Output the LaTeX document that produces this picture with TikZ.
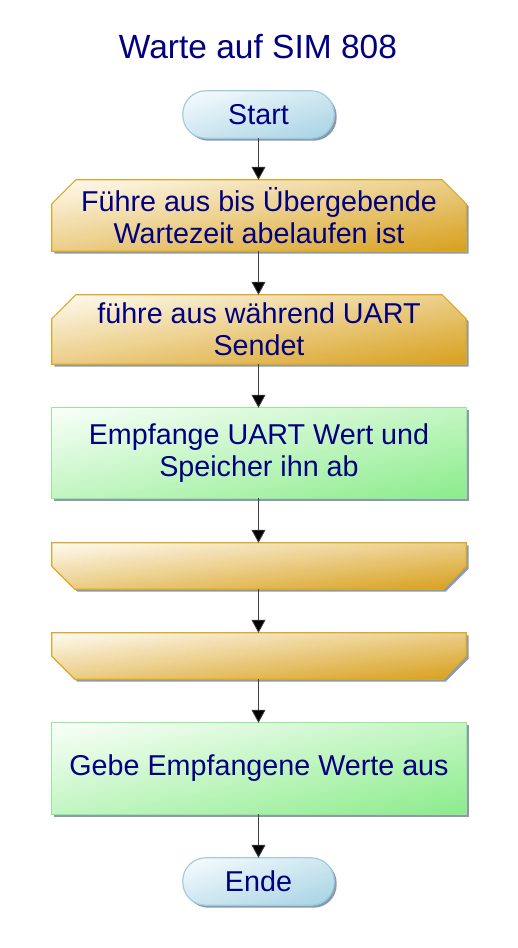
\documentclass[tikz,border=0pt]{standalone}
\usepackage{fontspec}
\setmainfont{Liberation Sans}
\usetikzlibrary{arrows.meta,positioning}
\pgfdeclarelayer{background}
\pgfsetlayers{background,main}
\definecolor{txtblue}{RGB}{0,0,128}
\definecolor{shadowgray}{RGB}{138,155,174}
\definecolor{termlight}{RGB}{250,253,255}
\definecolor{termdark}{RGB}{166,211,228}
\definecolor{termedge}{RGB}{160,205,222}
\definecolor{looplight}{RGB}{255,252,242}
\definecolor{loopdark}{RGB}{216,160,30}
\definecolor{loopedge}{RGB}{220,168,40}
\definecolor{proclight}{RGB}{250,255,250}
\definecolor{procdark}{RGB}{140,236,140}
\definecolor{procedge}{RGB}{150,232,150}
\tikzset{
  boxtext/.style={text=txtblue, font=\fontsize{28.7}{32}\selectfont, align=center, inner sep=0pt},
  diagshade/.style n args={4}{path picture={%
    \begin{scope}[shift={(path picture bounding box.north west)}, x=#3pt, y=-#4pt]
    \foreach \i in {0,...,47} {%
      \pgfmathsetmacro\pcl{100-(\i+0.5)*100/48}%
      \pgfmathsetmacro\sa{2*\i/48}%
      \pgfmathsetmacro\sb{2*(\i+1)/48+0.01}%
      \fill[color=#1!\pcl!#2] ({\sa+1},-1) -- ({\sb+1},-1) -- ({\sb-2},2) -- ({\sa-2},2) -- cycle;
    }
    \end{scope}}},
  shadowed/.style={preaction={fill=shadowgray, transform canvas={xshift=2.5pt,yshift=-2.5pt}}},
  termbox/.style={boxtext, rectangle, minimum width=151pt, minimum height=47pt},
  termshape/.style={draw=termedge, line width=1.2pt, rounded corners=23pt, diagshade={termlight}{termdark}{151}{47}, shadowed},
  procbox/.style={boxtext, rectangle, minimum width=414pt},
  procshape/.style={draw=procedge, line width=1.2pt, diagshade={proclight}{procdark}{414}{#1}, shadowed},
  loopbox/.style={boxtext, rectangle, minimum width=414pt},
  loopshape/.style={draw=loopedge, line width=1.2pt, diagshade={looplight}{loopdark}{414}{#1}, shadowed},
  flow/.style={draw=black!75, line width=0.8pt, -{Triangle[length=13pt,width=14pt,fill=black]}},
}
\newcommand\drawloopstart[2]{%
  \begin{pgfonlayer}{background}
  \path[loopshape=#2] ([xshift=24pt]#1.north west) -- ([xshift=-24pt]#1.north east) -- ([yshift=-24pt]#1.north east) -- (#1.south east) -- (#1.south west) -- ([yshift=-24pt]#1.north west) -- cycle;
  \end{pgfonlayer}}
\newcommand\drawloopend[2]{%
  \begin{pgfonlayer}{background}
  \path[loopshape=#2] (#1.north west) -- (#1.north east) -- ([yshift=23pt]#1.south east) -- ([xshift=-23pt]#1.south east) -- ([xshift=23pt]#1.south west) -- ([yshift=23pt]#1.south west) -- cycle;
  \end{pgfonlayer}}
\newcommand\drawprocshape[2]{%
  \begin{pgfonlayer}{background}
  \path[procshape=#2] (#1.north west) rectangle (#1.south east);
  \end{pgfonlayer}}
\newcommand\drawtermshape[1]{%
  \begin{pgfonlayer}{background}
  \path[termshape] (#1.north west) rectangle (#1.south east);
  \end{pgfonlayer}}
\begin{document}
\begin{tikzpicture}[x=1pt,y=1pt]
\useasboundingbox (0,0) rectangle (517,-948);
\node[text=txtblue, font=\fontsize{33.5}{38}\selectfont, inner sep=0pt] (title) at (258,-47) {Warte auf SIM 808};
\node[termbox] (start) at (258.5,-114.5) {Start};
\node[loopbox, minimum height=71pt] (l1) at (259,-215.5) {Führe aus bis Übergebende\\Wartezeit abelaufen ist};
\node[loopbox, minimum height=69pt] (l2) at (259,-329.5) {führe aus während UART\\Sendet};
\node[procbox, minimum height=90pt] (p1) at (259,-453) {Empfange UART Wert und\\Speicher ihn ab};
\node[loopbox, minimum height=46pt] (e1) at (259,-566) {};
\node[loopbox, minimum height=46pt] (e2) at (259,-656) {};
\node[procbox, minimum height=91pt] (p2) at (259,-768.5) {Gebe Empfangene Werte aus};
\node[termbox] (ende) at (258.5,-881.5) {Ende};
\drawtermshape{start}
\drawloopstart{l1}{71}
\drawloopstart{l2}{69}
\drawprocshape{p1}{90}
\drawloopend{e1}{46}
\drawloopend{e2}{46}
\drawprocshape{p2}{91}
\drawtermshape{ende}
\draw[flow] (start.south) -- (start.south |- l1.north);
\draw[flow] (l1.south -| start.south) -- (start.south |- l2.north);
\draw[flow] (l2.south -| start.south) -- (start.south |- p1.north);
\draw[flow] (p1.south -| start.south) -- (start.south |- e1.north);
\draw[flow] (e1.south -| start.south) -- (start.south |- e2.north);
\draw[flow] (e2.south -| start.south) -- (start.south |- p2.north);
\draw[flow] (p2.south -| start.south) -- (ende.north);
\end{tikzpicture}
\end{document}
